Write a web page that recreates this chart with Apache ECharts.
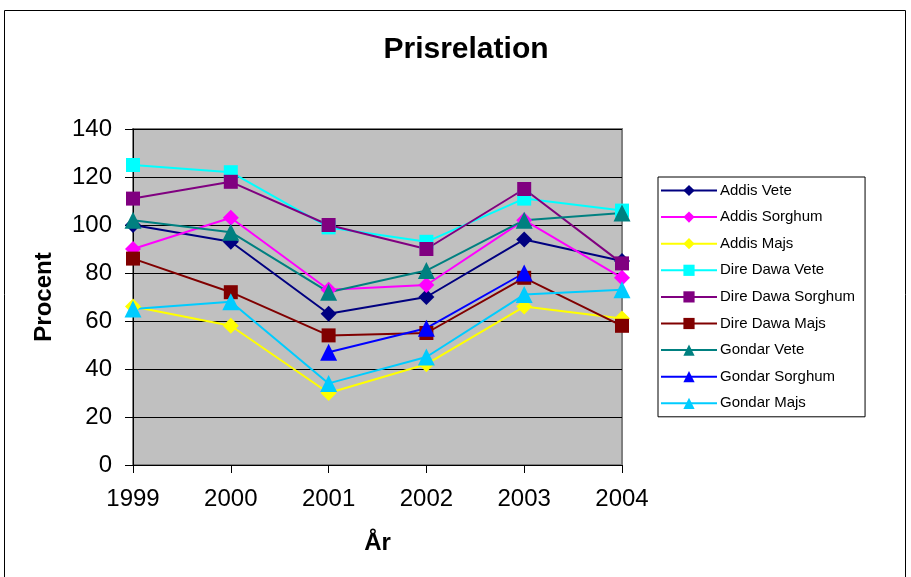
<!DOCTYPE html>
<html><head><meta charset="utf-8">
<script src="https://cdn.jsdelivr.net/npm/echarts@6/dist/echarts.min.js"></script>
<style>html,body{margin:0;padding:0;background:#fff}#c{width:911px;height:577px}</style>
</head><body><div id="c"></div>
<script>
const years = ['1999','2000','2001','2002','2003','2004'];
const addisVete = [100, 93, 63, 70, 94, 85];
const addisSorghum = [90, 103, 73, 75, 102, 78];
const addisMajs = [66, 58, 30, 42, 66, 61];
const direVete = [125, 122, 99, 93, 111, 106];
const direSorghum = [111, 118, 100, 90, 115, 84];
const direMajs = [86, 72, 54, 55, 78, 58];
const gondarVete = [102, 97, 72, 81, 102, 105];
const gondarSorghum = [null, null, 47, 57, 80, null];
const gondarMajs = [65, 68, 34, 45, 71, 73];
const yTicks = [0, 20, 40, 60, 80, 100, 120, 140];

const seriesDefs = [
  ['Addis Vete', addisVete, '#000080', 'diamond', 16],
  ['Addis Sorghum', addisSorghum, '#FF00FF', 'diamond', 16],
  ['Addis Majs', addisMajs, '#FFFF00', 'diamond', 16],
  ['Dire Dawa Vete', direVete, '#00FFFF', 'rect', 14],
  ['Dire Dawa Sorghum', direSorghum, '#800080', 'rect', 14],
  ['Dire Dawa Majs', direMajs, '#800000', 'rect', 14],
  ['Gondar Vete', gondarVete, '#008080', 'triangle', 17],
  ['Gondar Sorghum', gondarSorghum, '#0000FF', 'triangle', 17],
  ['Gondar Majs', gondarMajs, '#00CCFF', 'triangle', 17]
];

const font = 'Liberation Sans, Arial, sans-serif';
const chart = echarts.init(document.getElementById('c'));
chart.setOption({
  animation: false,
  backgroundColor: '#fff',
  textStyle: {fontFamily: font},
  graphic: [{type: 'rect', shape: {x: 4.5, y: 10.5, width: 901, height: 600}, style: {fill: 'none', stroke: '#000', lineWidth: 1}, silent: true, z: -1}],
  title: {text: 'Prisrelation', left: 461, top: 30, textAlign: 'center',
    textStyle: {fontFamily: font, fontSize: 30, fontWeight: 'bold', color: '#000'}},
  grid: {left: 133, right: 289, top: 129, bottom: 112, show: true, backgroundColor: '#C0C0C0', borderColor: '#808080', borderWidth: 2},
  legend: {
    orient: 'vertical', left: 658, top: 177,
    itemWidth: 56, itemHeight: 14, itemGap: 11.6,
    padding: [6, 10, 6, 2],
    borderColor: '#000', borderWidth: 1,
    lineStyle: {width: 2},
    textStyle: {fontFamily: font, fontSize: 15, color: '#000', padding: [0, 0, 0, -2]},
    data: seriesDefs.map(s => s[0])
  },
  xAxis: {
    type: 'category', data: years, boundaryGap: false,
    name: 'År', nameLocation: 'middle', nameGap: 66,
    nameTextStyle: {fontFamily: font, fontSize: 24, fontWeight: 'bold', color: '#000'},
    axisLine: {lineStyle: {color: '#000', width: 1}},
    axisTick: {show: true, length: 8, lineStyle: {color: '#000'}},
    axisLabel: {fontFamily: font, fontSize: 24, color: '#000', margin: 22},
    splitLine: {show: false}
  },
  yAxis: {
    type: 'value', min: 0, max: 140, interval: 20,
    name: 'Procent', nameLocation: 'middle', nameGap: 77, nameRotate: 90,
    nameTextStyle: {fontFamily: font, fontSize: 24, fontWeight: 'bold', color: '#000'},
    axisLine: {show: true, lineStyle: {color: '#000', width: 1}},
    axisTick: {show: true, length: 8, lineStyle: {color: '#000'}},
    axisLabel: {fontFamily: font, fontSize: 24, color: '#000', margin: 21,
      formatter: v => yTicks.includes(v) ? String(v) : ''},
    splitLine: {show: true, lineStyle: {color: '#000', width: 1}}
  },
  series: seriesDefs.map(s => ({
    name: s[0], type: 'line', data: s[1],
    symbol: s[3], symbolSize: s[4], showSymbol: true,
    connectNulls: false,
    lineStyle: {color: s[2], width: 2},
    itemStyle: {color: s[2]}
  }))
});
</script></body></html>
